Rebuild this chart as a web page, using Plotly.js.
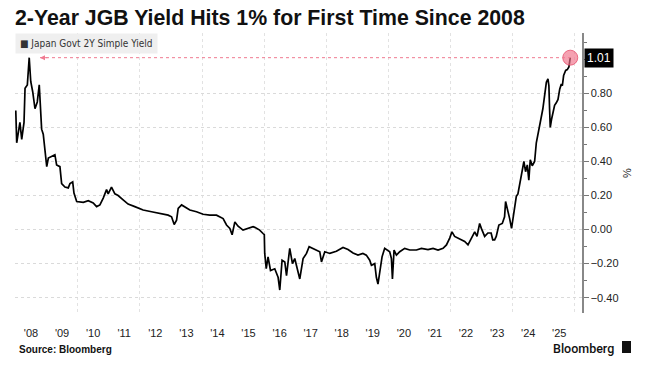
<!DOCTYPE html>
<html>
<head>
<meta charset="utf-8">
<script src="https://cdn.plot.ly/plotly-3.0.1.min.js"></script>
<style>html,body{margin:0;padding:0;background:#fff;}#chart{width:657px;height:372px;}</style>
</head>
<body>
<div id="chart"></div>
<script>
// Japan Govt 2Y simple yield (%)
const dates = [
 "2008-01-04","2008-01-15","2008-02-22","2008-03-14","2008-04-10","2008-04-22","2008-05-19","2008-06-10","2008-06-28","2008-07-21",
 "2008-08-17","2008-09-13","2008-10-06","2008-10-23","2008-11-03","2008-11-22","2008-12-12","2009-01-02","2009-01-21","2009-03-01",
 "2009-04-08","2009-04-28","2009-06-06","2009-06-26","2009-08-04","2009-09-12","2009-10-02","2009-11-03","2009-11-18","2009-12-20",
 "2010-03-08","2010-05-05","2010-07-02","2010-08-11","2010-09-19","2010-10-28","2010-12-06","2010-12-25","2011-02-02","2011-03-14",
 "2011-04-21","2011-06-19","2011-08-16","2011-11-03","2012-02-09","2012-05-18","2012-08-24","2012-11-29","2013-01-08","2013-02-08",
 "2013-03-08","2013-03-27","2013-05-06","2013-06-13","2013-08-11","2013-10-28","2014-01-14","2014-04-03","2014-06-20","2014-09-06",
 "2014-10-16","2014-11-24","2014-12-21","2015-01-22","2015-03-01","2015-04-28","2015-06-26","2015-08-24","2015-09-13","2015-11-10",
 "2015-12-19","2016-01-03","2016-01-08","2016-01-26","2016-02-16","2016-03-16","2016-05-05","2016-06-13","2016-07-03","2016-07-30",
 "2016-08-31","2016-09-20","2016-10-28","2016-11-29","2016-12-26","2017-02-03","2017-02-23","2017-04-03","2017-05-13","2017-06-13",
 "2017-07-30","2017-09-08","2017-10-16","2017-11-05","2017-12-14","2018-02-11","2018-04-29","2018-07-16","2018-09-13","2018-11-11",
 "2019-01-08","2019-03-07","2019-04-16","2019-05-26","2019-06-15","2019-07-24","2019-08-12","2019-08-31","2019-09-20","2019-10-18",
 "2019-11-18","2019-12-19","2020-01-16","2020-02-05","2020-02-17","2020-03-07","2020-04-04","2020-05-13","2020-07-10","2020-09-07",
 "2020-11-25","2021-01-23","2021-04-10","2021-06-08","2021-08-06","2021-10-04","2021-11-13","2021-12-21","2022-01-17","2022-02-17",
 "2022-03-28","2022-05-07","2022-06-15","2022-07-24","2022-09-02","2022-10-11","2022-11-07","2022-12-08","2022-12-28","2023-02-05",
 "2023-03-15","2023-04-22","2023-05-11","2023-06-02","2023-06-21","2023-07-22","2023-08-31","2023-09-27","2023-10-09","2023-11-05",
 "2023-11-25","2023-12-18","2024-01-10","2024-02-12","2024-03-02","2024-03-30","2024-04-22","2024-05-11","2024-05-31","2024-06-20",
 "2024-07-08","2024-07-25","2024-08-17","2024-09-14","2024-10-04","2024-11-03","2024-12-01","2024-12-20","2025-01-10","2025-01-30",
 "2025-02-18","2025-03-01","2025-03-09","2025-03-17","2025-04-02","2025-04-17","2025-05-07","2025-05-27","2025-06-16","2025-07-06",
 "2025-07-25","2025-08-06","2025-08-21","2025-09-14","2025-10-03","2025-10-22","2025-11-07"
];
const yields = [
 0.70,0.51,0.63,0.53,0.63,0.83,0.85,1.01,0.87,0.81,
 0.71,0.75,0.85,0.71,0.59,0.56,0.45,0.37,0.42,0.43,
 0.44,0.38,0.37,0.27,0.25,0.245,0.27,0.28,0.215,0.165,
 0.16,0.17,0.157,0.135,0.145,0.185,0.235,0.21,0.25,0.21,
 0.20,0.175,0.15,0.135,0.115,0.105,0.095,0.085,0.075,0.03,
 0.055,0.125,0.145,0.135,0.115,0.105,0.09,0.085,0.085,0.065,
 0.027,0.007,-0.03,0.045,0.02,-0.003,0.007,0.017,0.013,-0.003,
 -0.023,-0.03,-0.14,-0.23,-0.16,-0.24,-0.23,-0.28,-0.355,-0.18,
 -0.19,-0.27,-0.11,-0.20,-0.17,-0.24,-0.29,-0.17,-0.14,-0.10,
 -0.11,-0.12,-0.13,-0.19,-0.13,-0.14,-0.127,-0.105,-0.117,-0.137,
 -0.15,-0.14,-0.15,-0.18,-0.21,-0.20,-0.28,-0.32,-0.24,-0.16,
 -0.11,-0.12,-0.13,-0.17,-0.29,-0.12,-0.15,-0.13,-0.11,-0.12,
 -0.12,-0.11,-0.117,-0.11,-0.12,-0.11,-0.09,-0.05,-0.013,-0.04,
 -0.05,-0.06,-0.07,-0.09,-0.05,-0.013,-0.04,0.036,0.007,-0.04,
 -0.02,-0.02,-0.06,-0.06,-0.04,0.027,0.036,0.075,0.165,0.095,
 0.066,0.007,0.095,0.195,0.21,0.29,0.34,0.40,0.34,0.38,
 0.29,0.41,0.375,0.40,0.51,0.60,0.66,0.71,0.79,0.865,
 0.885,0.845,0.71,0.60,0.65,0.69,0.73,0.745,0.765,0.825,
 0.855,0.845,0.905,0.935,0.94,0.955,1.01
];
const yearTickVals = ["2008-07-01","2009-07-01","2010-07-01","2011-07-01","2012-07-01","2013-07-01","2014-07-01","2015-07-01","2016-07-01","2017-07-01","2018-07-01","2019-07-01","2020-07-01","2021-07-01","2022-07-01","2023-07-01","2024-07-01","2025-07-01"];
const yearTickText = ["'08","'09","'10","'11","'12","'13","'14","'15","'16","'17","'18","'19","'20","'21","'22","'23","'24","'25"];
const yTickVals = [-0.4,-0.2,0,0.2,0.4,0.6,0.8];
const seriesName = "Japan Govt 2Y Simple Yield";

const lastDate = dates[dates.length-1];
const lastVal = yields[yields.length-1];
const arrowTipDate = "2008-10-15";

const W = 657, H = 372, L = 15, R = 75, T = 33, B = 59;
const pw = W - L - R, ph = H - T - B;
const px = v => (v - L) / pw;
const py = v => (H - B - v) / ph;

const traces = [
  {x: dates, y: yields, type: 'scatter', mode: 'lines', name: seriesName,
   line: {color: '#000', width: 1.7}, hoverinfo: 'skip'},
  {x: [lastDate], y: [lastVal], type: 'scatter', mode: 'markers',
   marker: {size: 15, color: 'rgba(240,110,135,0.65)', line: {color: 'rgba(230,80,110,0.8)', width: 1}},
   hoverinfo: 'skip'}
];

const layout = {
  width: W, height: H,
  margin: {l: L, r: R, t: T, b: B},
  paper_bgcolor: '#fff', plot_bgcolor: '#fff',
  showlegend: false,
  font: {family: 'Liberation Sans, Arial, sans-serif', size: 11, color: '#222'},
  title: {text: '2-Year JGB Yield Hits 1% for First Time Since 2008',
    x: 15/W, xref: 'container', xanchor: 'left',
    y: 1 - 18/H, yref: 'container', yanchor: 'middle',
    font: {family: 'Liberation Sans, Arial, sans-serif', size: 21.3, weight: 'bold', color: '#111'}},
  xaxis: {
    type: 'date', range: ['2007-12-26', '2026-03-25'],
    tickmode: 'array', tickvals: yearTickVals, ticktext: yearTickText,
    ticks: 'outside', ticklen: 10, tickcolor: 'rgba(0,0,0,0)',
    showgrid: false, zeroline: false, showline: false,
    tickfont: {size: 11, color: '#222'},
    minor: {tickmode: 'linear', tick0: '2010-01-01', dtick: 'M24', showgrid: true,
            gridcolor: '#e2e2e2', griddash: 'dot', gridwidth: 1}
  },
  yaxis: {
    side: 'right', range: [-0.49, 1.155],
    tickmode: 'array', tickvals: yTickVals, tickformat: '.2f',
    ticks: 'outside', ticklen: 5, tickcolor: '#777', tickwidth: 1,
    showline: true, linecolor: '#888', linewidth: 1.5,
    showgrid: true, gridcolor: '#dadada', griddash: 'dot', gridwidth: 1,
    zeroline: false,
    tickfont: {size: 11, color: '#222'},
    minor: {tickmode: 'linear', tick0: 0, dtick: 0.1, ticks: 'outside', ticklen: 3, tickcolor: '#777', showgrid: false},
    title: {text: '%', standoff: 6, font: {size: 11, color: '#222'}}
  },
  shapes: [
    {type: 'line', xref: 'x', yref: 'y', x0: arrowTipDate, x1: lastDate, y0: lastVal, y1: lastVal,
     line: {color: '#f07a90', width: 1, dash: 'dot'}},
    {type: 'rect', xref: 'paper', yref: 'paper', x0: px(622), x1: px(631), y0: py(353), y1: py(341),
     fillcolor: '#111', line: {width: 0}}
  ],
  annotations: [
    {xref: 'paper', yref: 'paper', x: 0, y: 1, xanchor: 'left', yanchor: 'top',
     text: '\u25A0 ' + seriesName, showarrow: false, bgcolor: '#efefef', borderpad: 4,
     font: {family: 'Liberation Sans Narrow, DejaVu Sans Condensed, Liberation Sans, Arial, sans-serif', size: 10, color: '#333'}},
    {xref: 'x', yref: 'y', x: arrowTipDate, y: lastVal, ax: 9, ay: 0, text: '', showarrow: true,
     arrowhead: 2, arrowsize: 1, arrowwidth: 1, arrowcolor: '#f07a90'},
    {xref: 'paper', yref: 'y', x: 1, y: lastVal, xanchor: 'left', yanchor: 'middle', xshift: 2,
     text: lastVal.toFixed(2), showarrow: false, bgcolor: '#000', borderpad: 2,
     font: {size: 12, color: '#fff'}},
    {xref: 'paper', yref: 'paper', x: px(17), y: py(349), xanchor: 'left', yanchor: 'middle',
     text: '<b>Source: Bloomberg</b>', showarrow: false,
     font: {size: 10, color: '#111'}},
    {xref: 'paper', yref: 'paper', x: px(616), y: py(348), xanchor: 'right', yanchor: 'middle',
     text: 'Bloomberg', showarrow: false,
     font: {family: 'Roboto, Liberation Sans, sans-serif', size: 12.5, weight: 500, color: '#111'}}
  ]
};

Plotly.newPlot('chart', traces, layout, {displayModeBar: false, staticPlot: true});
</script>
</body>
</html>
